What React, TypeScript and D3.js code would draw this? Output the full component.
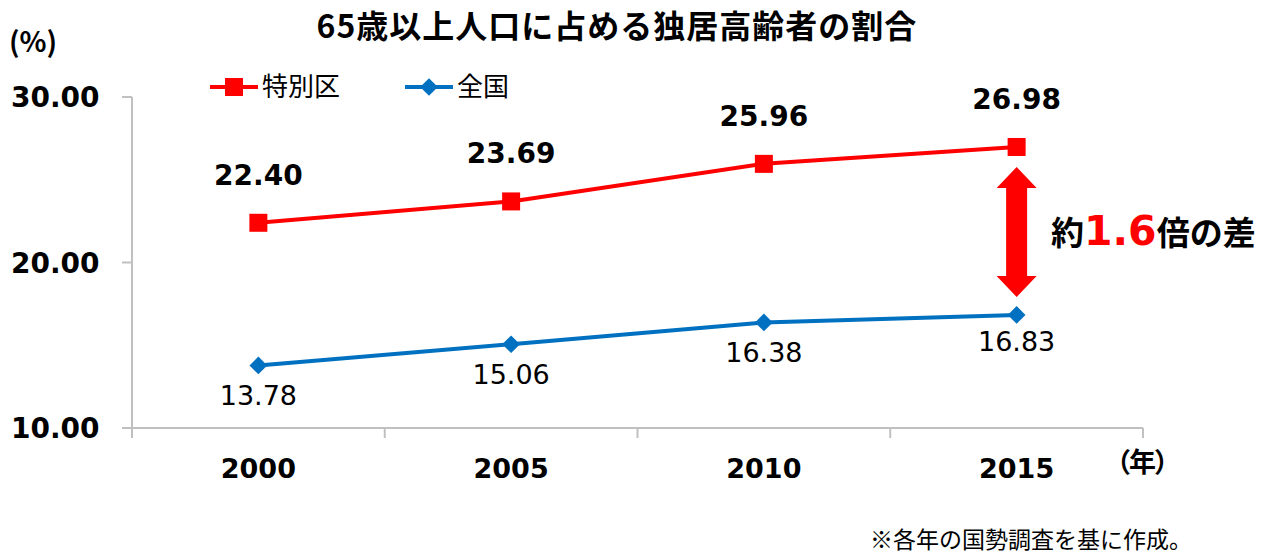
import { useEffect, useRef } from 'react';
import * as d3 from 'd3';

const years = ['2000', '2005', '2010', '2015'];
const tokubetsuku = [22.40, 23.69, 25.96, 26.98];
const zenkoku = [13.78, 15.06, 16.38, 16.83];
const yTicks = [10, 20, 30];

const RED = '#ff0000';
const BLUE = '#0070c0';
const JP = '"Noto Sans CJK JP", sans-serif';
const NUM = '"DejaVu Sans", sans-serif';

export default function App() {
    const ref = useRef<SVGSVGElement>(null);

    useEffect(() => {
        const svg = d3.select(ref.current);
        svg.selectAll('*').remove();

        const x = d3.scaleBand().domain(years).range([132, 1143]).padding(0);
        const cx = (d: string) => (x(d) as number) + x.bandwidth() / 2;
        const y = d3.scaleLinear().domain([10, 30]).range([428, 97]);

        // title
        svg.append('text')
            .attr('x', 617).attr('y', 38)
            .attr('text-anchor', 'middle')
            .style('font-family', JP).style('font-weight', 'bold').style('font-size', '32px')
            .style('letter-spacing', '1px')
            .text('65歳以上人口に占める独居高齢者の割合');

        svg.append('text')
            .attr('x', 9).attr('y', 52)
            .style('font-family', JP).style('font-weight', 'bold').style('font-size', '28px')
            .text('(%)');

        // axes
        const ax = svg.append('g').attr('stroke', '#c0c0c0').attr('stroke-width', 2);
        ax.append('line').attr('x1', 132).attr('x2', 132).attr('y1', y(30)).attr('y2', y(10));
        yTicks.forEach(t => {
            ax.append('line').attr('x1', 122).attr('x2', 132).attr('y1', y(t)).attr('y2', y(t));
        });
        ax.append('line').attr('x1', 132).attr('x2', 1143).attr('y1', y(10)).attr('y2', y(10));
        [...years.map(d => x(d) as number), 1143].forEach(v => {
            ax.append('line').attr('x1', v).attr('x2', v).attr('y1', y(10)).attr('y2', y(10) + 10);
        });

        svg.selectAll('.ytick').data(yTicks).join('text')
            .attr('x', 11).attr('y', d => y(d) + 10)
            .style('font-family', NUM).style('font-weight', 'bold').style('font-size', '28px')
            .text(d => d.toFixed(2));

        svg.selectAll('.xtick').data(years).join('text')
            .attr('x', d => cx(d)).attr('y', 478)
            .attr('text-anchor', 'middle')
            .style('font-family', NUM).style('font-weight', 'bold').style('font-size', '27px')
            .text(d => d);

        svg.append('text')
            .attr('x', 1104).attr('y', 472)
            .style('font-family', JP).style('font-weight', 'bold').style('font-size', '27px')
            .style('letter-spacing', '-2px')
            .text('（年）');

        const line = d3.line<number>().x((_, i) => cx(years[i])).y(d => y(d));

        // red series
        svg.append('path').datum(tokubetsuku)
            .attr('d', line).attr('fill', 'none').attr('stroke', RED).attr('stroke-width', 4);
        svg.selectAll('.rmark').data(tokubetsuku).join('rect')
            .attr('x', (_, i) => cx(years[i]) - 9).attr('y', d => y(d) - 9)
            .attr('width', 18).attr('height', 18).attr('fill', RED);
        svg.selectAll('.rlab').data(tokubetsuku).join('text')
            .attr('x', (_, i) => cx(years[i])).attr('y', d => y(d) - 38)
            .attr('text-anchor', 'middle')
            .style('font-family', NUM).style('font-weight', 'bold').style('font-size', '28px')
            .text(d => d.toFixed(2));

        // blue series
        svg.append('path').datum(zenkoku)
            .attr('d', line).attr('fill', 'none').attr('stroke', BLUE).attr('stroke-width', 4);
        const diamond = d3.symbol().type(d3.symbolDiamond2).size(200);
        svg.selectAll('.bmark').data(zenkoku).join('path')
            .attr('d', diamond)
            .attr('transform', (d, i) => `translate(${cx(years[i])},${y(d)})`)
            .attr('fill', BLUE);
        svg.selectAll('.blab').data(zenkoku).join('text')
            .attr('x', (_, i) => cx(years[i])).attr('y', (d, i) => y(d) + (i === 3 ? 36 : 40))
            .attr('text-anchor', 'middle')
            .style('font-family', NUM).style('font-size', '27px')
            .text(d => d.toFixed(2));

        // legend
        const lg = svg.append('g');
        lg.append('line').attr('x1', 210).attr('x2', 258).attr('y1', 87).attr('y2', 87)
            .attr('stroke', RED).attr('stroke-width', 4);
        lg.append('rect').attr('x', 225).attr('y', 78).attr('width', 18).attr('height', 18).attr('fill', RED);
        lg.append('text').attr('x', 262).attr('y', 96)
            .style('font-family', JP).style('font-size', '26px').text('特別区');
        lg.append('line').attr('x1', 405).attr('x2', 453).attr('y1', 87).attr('y2', 87)
            .attr('stroke', BLUE).attr('stroke-width', 4);
        lg.append('path').attr('d', diamond).attr('transform', 'translate(429,87)').attr('fill', BLUE);
        lg.append('text').attr('x', 457).attr('y', 96)
            .style('font-family', JP).style('font-size', '26px').text('全国');

        // double arrow between 2015 points
        const ax15 = cx('2015');
        const top = y(tokubetsuku[3]) + 20;
        const bot = y(zenkoku[3]) - 18;
        const hw = 20, sw = 10.5, hh = 21;
        svg.append('path')
            .attr('d', `M${ax15},${top} L${ax15 + hw},${top + hh} L${ax15 + sw},${top + hh} L${ax15 + sw},${bot - hh} L${ax15 + hw},${bot - hh} L${ax15},${bot} L${ax15 - hw},${bot - hh} L${ax15 - sw},${bot - hh} L${ax15 - sw},${top + hh} L${ax15 - hw},${top + hh} Z`)
            .attr('fill', RED);

        const ann = svg.append('text').attr('x', 1051).attr('y', 245)
            .style('font-family', JP).style('font-weight', 'bold').style('font-size', '33px');
        ann.append('tspan').text('約');
        ann.append('tspan').attr('fill', RED).style('font-family', NUM).style('font-size', '41px').text('1.6');
        ann.append('tspan').text('倍の差');

        svg.append('text')
            .attr('x', 870).attr('y', 548)
            .style('font-family', JP).style('font-size', '23px')
            .text('※各年の国勢調査を基に作成。');
    });

    return (
        <svg ref={ref} width={1271} height={554}
            style={{ position: 'absolute', left: 0, top: 0, background: '#fff' }} />
    );
}
